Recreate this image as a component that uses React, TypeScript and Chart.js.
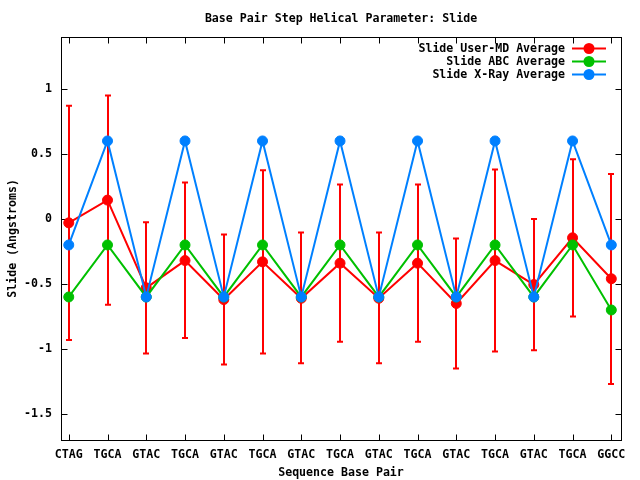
import { useEffect, useRef } from 'react';
import { Chart, registerables } from 'chart.js';

Chart.register(...registerables);

const categories = ['CTAG', 'TGCA', 'GTAC', 'TGCA', 'GTAC', 'TGCA', 'GTAC', 'TGCA', 'GTAC', 'TGCA', 'GTAC', 'TGCA', 'GTAC', 'TGCA', 'GGCC'];
const userMdAverage = [-0.03, 0.145, -0.53, -0.32, -0.62, -0.33, -0.61, -0.34, -0.61, -0.34, -0.65, -0.32, -0.505, -0.145, -0.46];
const userMdUpper = [0.87, 0.95, -0.025, 0.28, -0.12, 0.375, -0.105, 0.265, -0.105, 0.265, -0.15, 0.38, 0.0, 0.46, 0.345];
const userMdLower = [-0.93, -0.66, -1.035, -0.915, -1.12, -1.035, -1.11, -0.945, -1.11, -0.945, -1.15, -1.02, -1.01, -0.75, -1.27];
const abcAverage = [-0.6, -0.2, -0.6, -0.2, -0.6, -0.2, -0.6, -0.2, -0.6, -0.2, -0.6, -0.2, -0.6, -0.2, -0.7];
const xrayAverage = [-0.2, 0.6, -0.6, 0.6, -0.6, 0.6, -0.6, 0.6, -0.6, 0.6, -0.6, 0.6, -0.6, 0.6, -0.2];
const yTicks = [-1.5, -1, -0.5, 0, 0.5, 1];

const RED = '#ff0000';
const GREEN = '#00c000';
const BLUE = '#0080ff';

export default function App() {
  const ref = useRef<HTMLCanvasElement>(null);

  useEffect(() => {
    const canvas = ref.current;
    if (!canvas) return;
    const family = "'DejaVu Sans Mono', monospace";
    const font = { family, size: 11.6, weight: 'bold' as const };

    const toPts = (arr: number[]) => arr.map((y, i) => ({ x: i, y }));

    const errorBars = {
      id: 'errorBars',
      afterDatasetDraw(chart: any, args: any) {
        if (args.index !== 0) return;
        const { ctx, scales } = chart;
        const xs = scales.x;
        const ys = scales.y;
        ctx.save();
        ctx.strokeStyle = RED;
        ctx.lineWidth = 2;
        userMdAverage.forEach((_, i) => {
          const px = Math.round(xs.getPixelForValue(i));
          const top = ys.getPixelForValue(userMdUpper[i]);
          const bot = ys.getPixelForValue(userMdLower[i]);
          ctx.beginPath();
          ctx.moveTo(px, top);
          ctx.lineTo(px, bot);
          ctx.moveTo(px - 3, top);
          ctx.lineTo(px + 3, top);
          ctx.moveTo(px - 3, bot);
          ctx.lineTo(px + 3, bot);
          ctx.stroke();
        });
        ctx.restore();
      },
    };

    const frame = {
      id: 'frame',
      beforeDatasetsDraw(chart: any) {
        const { ctx, chartArea: a, scales } = chart;
        const xs = scales.x;
        const ys = scales.y;
        const L = Math.round(a.left) + 0.5;
        const R = Math.round(a.right) + 0.5;
        const T = Math.round(a.top) + 0.5;
        const B = Math.round(a.bottom) + 0.5;
        ctx.save();
        ctx.strokeStyle = '#000';
        ctx.lineWidth = 1;
        ctx.strokeRect(L, T, R - L, B - T);
        const tl = 6;
        ctx.beginPath();
        categories.forEach((_, i) => {
          const px = Math.round(xs.getPixelForValue(i)) + 0.5;
          ctx.moveTo(px, B);
          ctx.lineTo(px, B - tl);
          ctx.moveTo(px, T);
          ctx.lineTo(px, T + tl);
        });
        yTicks.forEach((v) => {
          const py = Math.round(ys.getPixelForValue(v)) + 0.5;
          ctx.moveTo(L, py);
          ctx.lineTo(L + tl, py);
          ctx.moveTo(R, py);
          ctx.lineTo(R - tl, py);
        });
        ctx.stroke();
        ctx.restore();
      },
    };

    const gpLegend = {
      id: 'gpLegend',
      afterDraw(chart: any) {
        const { ctx } = chart;
        ctx.save();
        ctx.font = `bold ${font.size}px ${family}`;
        ctx.textAlign = 'right';
        ctx.textBaseline = 'middle';
        chart.data.datasets.forEach((ds: any, i: number) => {
          const y = 48.5 + i * 13;
          ctx.fillStyle = '#000';
          ctx.fillText(ds.label, 565, y + 0.5);
          ctx.strokeStyle = ds.borderColor;
          ctx.lineWidth = 2;
          ctx.beginPath();
          ctx.moveTo(572, y);
          ctx.lineTo(606, y);
          ctx.stroke();
          ctx.fillStyle = ds.borderColor;
          ctx.beginPath();
          ctx.arc(589, y, 5.5, 0, Math.PI * 2);
          ctx.fill();
        });
        ctx.restore();
      },
    };

    const mk = (label: string, data: number[], color: string, order: number) => ({
      label,
      data: toPts(data),
      borderColor: color,
      backgroundColor: color,
      pointBackgroundColor: color,
      pointBorderColor: color,
      pointRadius: 5,
      pointBorderWidth: 1,
      borderWidth: 2,
      tension: 0,
      order,
    });

    const chart = new Chart(canvas, {
      type: 'line',
      data: {
        datasets: [
          mk('Slide User-MD Average', userMdAverage, RED, 3),
          mk('Slide ABC Average', abcAverage, GREEN, 2),
          mk('Slide X-Ray Average', xrayAverage, BLUE, 1),
        ],
      },
      options: {
        animation: false,
        responsive: false,
        devicePixelRatio: 1,
        events: [],
        layout: { padding: { left: 0, right: 19, top: 0, bottom: 0 } },
        plugins: {
          legend: { display: false },
          tooltip: { enabled: false },
          title: {
            display: true,
            text: 'Base Pair Step Helical Parameter: Slide',
            color: '#000',
            font,
            fullSize: false,
            padding: { top: 12, bottom: 11 },
          },
        },
        scales: {
          x: {
            type: 'linear',
            min: -0.2,
            max: 14.25,
            grid: { display: false, drawTicks: false },
            border: { display: false },
            afterBuildTicks: (s: any) => {
              s.ticks = categories.map((_, i) => ({ value: i }));
            },
            afterFit: (s: any) => {
              s.height = 40;
              s.paddingLeft = 0;
              s.paddingRight = 0;
            },
            ticks: {
              autoSkip: false,
              maxRotation: 0,
              minRotation: 0,
              color: '#000',
              font,
              padding: 8,
              callback: (v: any) => categories[Math.round(Number(v))],
            },
            title: {
              display: true,
              text: 'Sequence Base Pair',
              color: '#000',
              font,
              padding: { top: 0, bottom: 0 },
            },
          },
          y: {
            type: 'linear',
            min: -1.7,
            max: 1.4,
            grid: { display: false, drawTicks: false },
            border: { display: false },
            afterBuildTicks: (s: any) => {
              s.ticks = yTicks.map((v) => ({ value: v }));
            },
            afterFit: (s: any) => {
              s.width = 61;
              s.paddingTop = 0;
              s.paddingBottom = 0;
            },
            ticks: {
              color: '#000',
              font,
              padding: 9,
              callback: (v: any) => String(v),
            },
            title: {
              display: true,
              text: 'Slide (Angstroms)',
              color: '#000',
              font,
              padding: { top: 6, bottom: 0 },
            },
          },
        },
      },
      plugins: [frame, errorBars, gpLegend],
    });

    return () => chart.destroy();
  }, []);

  return (
    <div style={{ position: 'fixed', left: 0, top: 0, width: 640, height: 480, background: '#fff' }}>
      <canvas ref={ref} width={640} height={480} style={{ display: 'block', width: 640, height: 480 }} />
    </div>
  );
}
